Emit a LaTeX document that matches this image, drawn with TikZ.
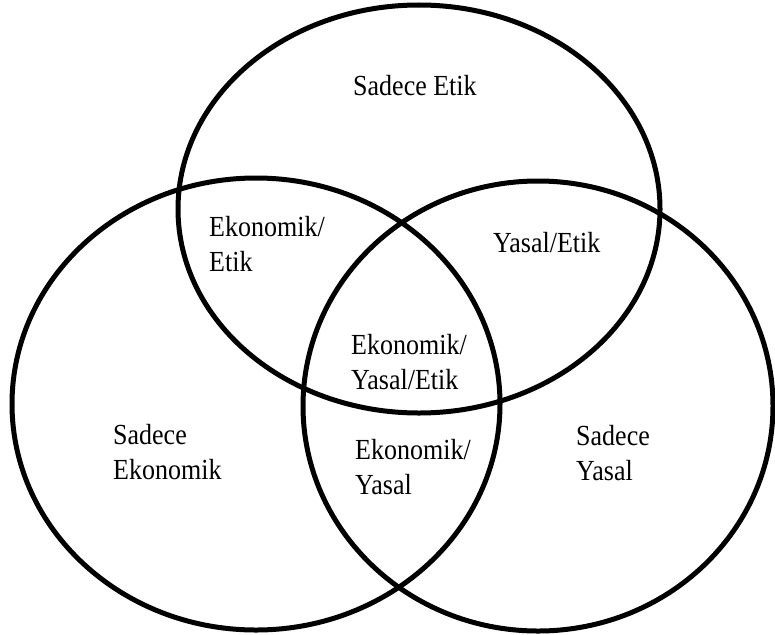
\documentclass[tikz,border=0pt]{standalone}
\usepackage{fontspec}
\usepackage{graphicx}
\setmainfont{Liberation Serif}
\newcommand{\tl}[1]{\scalebox{1}[1.12]{#1}}
\begin{document}
\begin{tikzpicture}[x=1pt,y=-1pt,
  ring/.style={draw=black,line width=5pt},
  lbl/.style={inner sep=0pt,anchor=west,align=left,font=\fontsize{26}{35}\selectfont}]
\useasboundingbox (0,0) rectangle (775,634);
\draw[ring] (419,209) ellipse [x radius=241,y radius=204];
\draw[ring] (256,404) ellipse [x radius=244,y radius=226];
\draw[ring] (538,406) ellipse [x radius=235,y radius=225];
\node[lbl] (e) at (353,86) {\tl{Sadece Etik}};
\node[lbl] (ee) at (209,244) {\tl{Ekonomik/}\\\tl{Etik}};
\node[lbl] (ye) at (493,243) {\tl{Yasal/Etik}};
\node[lbl] (eye) at (351,362) {\tl{Ekonomik/}\\\tl{Yasal/Etik}};
\node[lbl] (se) at (113,452) {\tl{Sadece}\\\tl{Ekonomik}};
\node[lbl] (ey) at (355,467) {\tl{Ekonomik/}\\\tl{Yasal}};
\node[lbl] (sy) at (576,453) {\tl{Sadece}\\\tl{Yasal}};
\end{tikzpicture}
\end{document}
